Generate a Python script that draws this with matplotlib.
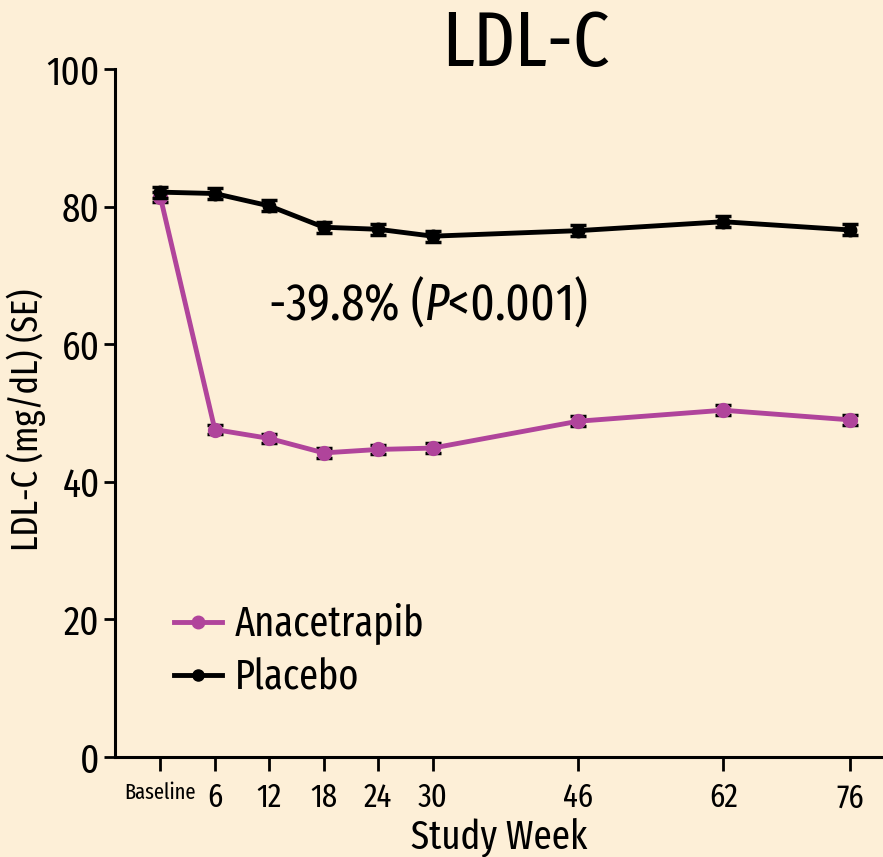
import matplotlib
matplotlib.use('Agg')
import matplotlib.pyplot as plt
from matplotlib.lines import Line2D

FONT = 'Fira Sans Extra Condensed'
plt.rcParams['font.family'] = [FONT, 'DejaVu Sans']
plt.rcParams['mathtext.fontset'] = 'custom'
plt.rcParams['mathtext.rm'] = FONT
plt.rcParams['mathtext.it'] = FONT + ':italic'

# LDL-C by study week (week 0 = baseline)
weeks = [0, 6, 12, 18, 24, 30, 46, 62, 76]
week_labels = ['Baseline', '6', '12', '18', '24', '30', '46', '62', '76']
anacetrapib = [81.4, 47.6, 46.3, 44.2, 44.7, 44.9, 48.8, 50.4, 49.0]
placebo = [82.1, 81.9, 80.1, 77.0, 76.7, 75.7, 76.5, 77.8, 76.6]
anacetrapib_se = [0.7, 0.7, 0.7, 0.7, 0.7, 0.7, 0.7, 0.7, 0.7]
placebo_se = [0.8, 0.8, 0.8, 0.8, 0.8, 0.8, 0.8, 0.8, 0.8]

bg = '#FDEFD7'
purple = '#B0449B'

fig = plt.figure(figsize=(8.83, 8.57), dpi=100, facecolor=bg)
ax = fig.add_axes([0.1302, 0.1167, 0.8698, 0.8028], facecolor=bg)

ax.errorbar(weeks, placebo, yerr=placebo_se, color='black', lw=3.5,
            marker='o', ms=9, ecolor='black', elinewidth=2, capsize=6,
            capthick=2.5, zorder=3)
ax.errorbar(weeks, anacetrapib, yerr=anacetrapib_se, color=purple, lw=3.5,
            marker='o', ms=10, ecolor='black', elinewidth=2, capsize=6,
            capthick=2.5, zorder=2)

ax.set_xlim(-5.0, 79.6)
ax.set_ylim(0, 100)
ax.set_yticks([0, 20, 40, 60, 80, 100])
ax.set_xticks(weeks)
ax.set_xticklabels(week_labels)
for lbl in ax.get_xticklabels():
    lbl.set_fontsize(24)
ax.get_xticklabels()[0].set_fontsize(16)
ax.tick_params(axis='y', labelsize=29, length=8, width=2, direction='out', pad=3)
ax.tick_params(axis='x', length=10, width=2, direction='out', pad=8)

for s in ['top', 'right']:
    ax.spines[s].set_visible(False)
for s in ['left', 'bottom']:
    ax.spines[s].set_linewidth(2.2)

ax.set_xlabel('Study Week', fontsize=29, labelpad=2)
ax.set_ylabel('LDL-C (mg/dL) (SE)', fontsize=27)
ax.yaxis.set_label_coords(-0.09, 0.49)

fig.text(0.596, 0.947, 'LDL-C', fontsize=56, ha='center', va='center')
ax.text(29.5, 66.0, r'-39.8% ($\mathit{P}$<0.001)', fontsize=37,
        ha='center', va='center')

handles = [Line2D([], [], color=purple, lw=3.5, marker='o', ms=9),
           Line2D([], [], color='black', lw=3.5, marker='o', ms=8)]
ax.legend(handles, ['Anacetrapib', 'Placebo'], loc='lower left',
          bbox_to_anchor=(0.028, 0.03), frameon=False, fontsize=30,
          handlelength=1.15, handletextpad=0.3, labelspacing=0.3)

fig.savefig('out.png', dpi=100, facecolor=bg)
